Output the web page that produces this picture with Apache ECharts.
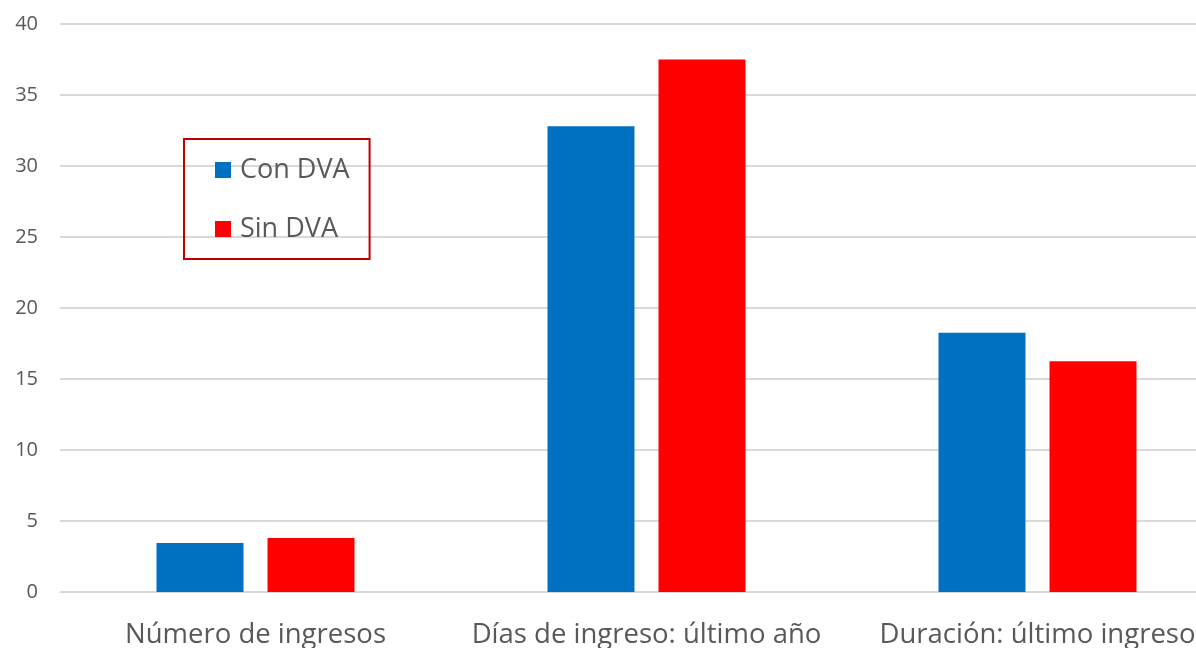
<!DOCTYPE html>
<html>
<head>
<meta charset="utf-8">
<script src="https://cdn.jsdelivr.net/npm/echarts@6/dist/echarts.min.js"></script>
<style>
  html, body { margin: 0; padding: 0; background: #fff; }
  #chart { width: 1196px; height: 648px; }
</style>
</head>
<body>
<div id="chart"></div>
<script>
const categories = ["Número de ingresos", "Días de ingreso: último año", "Duración: último ingreso"];
const conDVA = [3.45, 32.8, 18.25];
const sinDVA = [3.8, 37.5, 16.25];
const yTicks = [0, 5, 10, 15, 20, 25, 30, 35, 40];

var myChart = echarts.init(document.getElementById("chart"));
const option = {
  animation: false,
  textStyle: { fontFamily: "Open Sans" },
  // el gráfico original sigue más allá del borde derecho
  grid: { left: 60, right: -37, top: 24, bottom: 56, outerBoundsMode: "none" },
  legend: {
    data: ["Con DVA", "Sin DVA"],
    orient: "vertical",
    left: 184,
    top: 139,
    padding: [17, 20, 16, 31],
    borderColor: "#c00000",
    borderWidth: 2,
    itemWidth: 16,
    itemHeight: 16,
    itemGap: 31,
    icon: "rect",
    textStyle: {
      color: "#595959",
      fontSize: 27,
      lineHeight: 28,
      padding: [0, 0, 0, 4],
      fontFamily: "Open Sans",
    },
  },
  xAxis: {
    type: "category",
    data: categories,
    axisLine: { lineStyle: { color: "#d9d9d9" } },
    axisTick: { show: false },
    axisLabel: { color: "#595959", fontSize: 27.5, margin: 29, interval: 0 },
  },
  yAxis: {
    type: "value",
    min: yTicks[0],
    max: yTicks[yTicks.length - 1],
    interval: 5,
    axisLine: { show: false },
    axisTick: { show: false },
    splitLine: { lineStyle: { color: "#d9d9d9", width: 2 } },
    axisLabel: { color: "#595959", fontSize: 20, margin: 22 },
  },
  series: [
    {
      name: "Con DVA",
      type: "bar",
      data: conDVA,
      barWidth: 87,
      barGap: "27.6%",
      itemStyle: { color: "#0070c0" },
    },
    {
      name: "Sin DVA",
      type: "bar",
      data: sinDVA,
      barWidth: 87,
      itemStyle: { color: "#ff0000" },
    },
  ],
};
myChart.setOption(option);
</script>
</body>
</html>
